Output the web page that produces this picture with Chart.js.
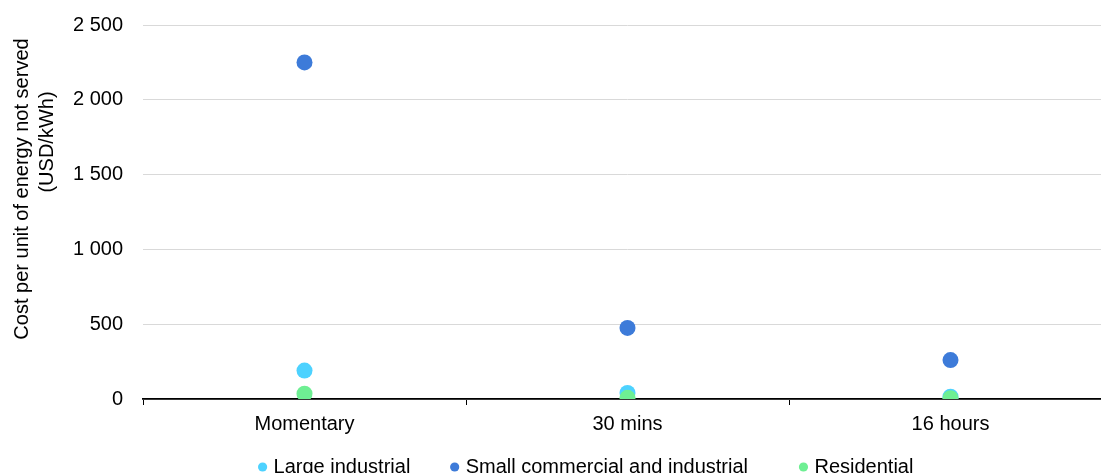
<!DOCTYPE html>
<html>
<head>
<meta charset="utf-8">
<script src="https://cdn.jsdelivr.net/npm/chart.js@4"></script>
<style>
  html, body { margin: 0; padding: 0; background: #fff; overflow: hidden; }
  /* plot runs a little past the right edge of the window, as in the original */
  #wrap { width: 1120px; height: 473px; }
</style>
</head>
<body>
<div id="wrap"><canvas id="myChart"></canvas></div>
<script>
// ---- Data ----
const categories = ["Momentary", "30 mins", "16 hours"];
const largeIndustrial = [190, 40, 15];
const smallCommercial = [2250, 475, 260];
const residential = [35, 8, 5];
const yTicks = [0, 500, 1000, 1500, 2000, 2500];
const yTitle = ["Cost per unit of energy not served", "(USD/kWh)"];

const FONT = "Liberation Sans, Arial, sans-serif";
const fmt = v => String(v).replace(/\B(?=(\d{3})+(?!\d))/g, " ");

function series(label, data, color, order) {
  return {
    label,
    data,
    order,
    showLine: false,
    backgroundColor: color,
    borderColor: color,
    pointRadius: 8,
    pointHoverRadius: 8,
    pointBorderWidth: 0
  };
}

// ---- Rotated y axis title (two lines, like the original) ----
const yTitlePlugin = {
  id: "yTitle",
  afterDraw(chart) {
    const { ctx } = chart;
    ctx.save();
    ctx.fillStyle = "#000";
    ctx.font = `20px ${FONT}`;
    ctx.textAlign = "center";
    ctx.textBaseline = "middle";
    [[22, 189], [47, 142]].forEach(([x, y], i) => {
      ctx.save();
      ctx.translate(x, y);
      ctx.rotate(-Math.PI / 2);
      ctx.fillText(yTitle[i], 0, 0);
      ctx.restore();
    });
    ctx.restore();
  }
};

// extra spacing after legend entries
const legendGap = ["      ", "        ", ""];

new Chart(document.getElementById("myChart"), {
  type: "line",
  data: {
    labels: categories,
    datasets: [
      series("Large industrial", largeIndustrial, "#4dd2ff", 2),
      series("Small commercial and industrial", smallCommercial, "#3d7bd9", 1),
      series("Residential", residential, "#6eef93", 0)
    ]
  },
  plugins: [yTitlePlugin],
  options: {
    responsive: true,
    maintainAspectRatio: false,
    animation: false,
    layout: { padding: { top: 25, right: 0, left: 55, bottom: -14 } },
    plugins: {
      legend: {
        position: "bottom",
        labels: {
          usePointStyle: true,
          pointStyle: "circle",
          boxWidth: 2,
          boxHeight: 6.5,
          padding: 10,
          color: "#000",
          font: { family: FONT, size: 20 },
          sort: (a, b) => a.datasetIndex - b.datasetIndex,
          generateLabels: chart => {
            const items = Chart.defaults.plugins.legend.labels.generateLabels(chart);
            items.forEach(it => { it.text = it.text + legendGap[it.datasetIndex]; });
            return items;
          }
        }
      },
      tooltip: { enabled: false }
    },
    scales: {
      x: {
        offset: true,
        afterFit: axis => { axis.height = 48; },
        grid: {
          offset: true,
          drawOnChartArea: false,
          drawTicks: true,
          tickLength: 6,
          color: "#000"
        },
        border: { color: "#000", width: 1.8 },
        ticks: {
          color: "#000",
          padding: 7,
          font: { family: FONT, size: 20 }
        }
      },
      y: {
        min: 0,
        max: 2500,
        afterFit: axis => { axis.width = 88; },
        afterBuildTicks: axis => { axis.ticks = yTicks.map(v => ({ value: v })); },
        // invisible tick marks give the gap between labels and plot
        grid: { color: "#d9d9d9", drawTicks: true, tickLength: 20, tickColor: "rgba(0,0,0,0)" },
        border: { display: false },
        ticks: {
          color: "#000",
          padding: 0,
          callback: v => fmt(v),
          font: { family: FONT, size: 20 }
        }
      }
    }
  }
});
</script>
</body>
</html>
